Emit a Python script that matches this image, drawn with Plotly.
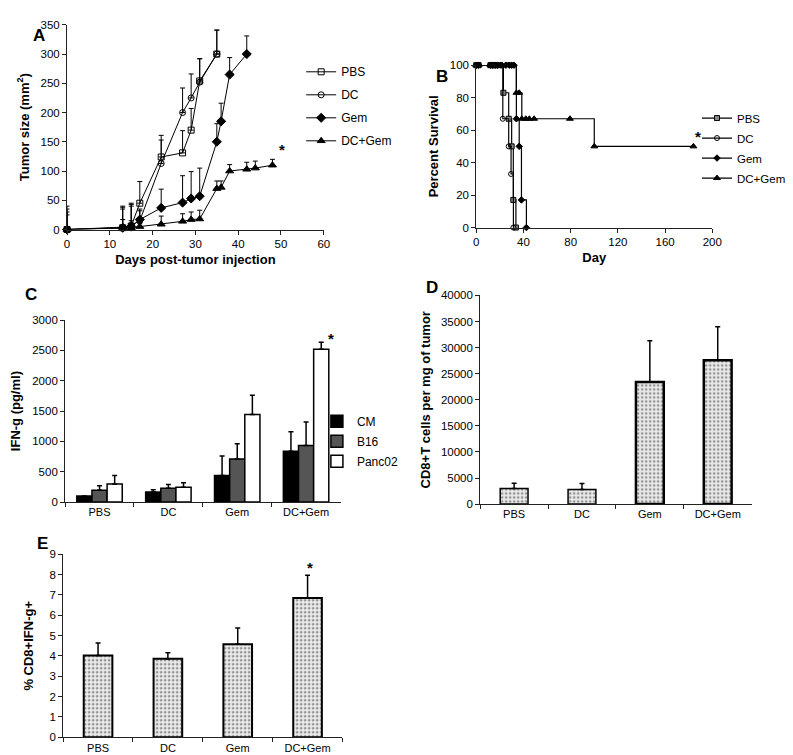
import plotly.graph_objects as go

W, H = 793, 755

# ---- Panel A: tumour size vs days post-injection
a_days_pbs = [0, 13, 15, 17, 22, 27, 29, 31, 35]
a_pbs = [0, 3, 6, 45, 124, 131, 170, 254, 300]
a_pbs_err = [40, 37, 37, 37, 37, 38, 37, 38, 41]

a_days_dc = [0, 13, 15, 17, 22, 27, 29, 31, 35]
a_dc = [0, 4, 7, 15, 113, 200, 225, 252, 300]
a_dc_err = [35, 34, 38, 20, 40, 42, 41, 40, 41]

a_days_gem = [0, 13, 15, 17, 22, 27, 29, 31, 35, 36, 38, 42]
a_gem = [0, 3, 5, 17, 37, 46, 53, 57, 150, 185, 265, 300]
a_gem_err = [30, 32, 35, 15, 32, 46, 46, 48, 31, 31, 29, 31]

a_days_dcgem = [0, 13, 15, 17, 22, 27, 29, 31, 35, 36, 38, 42, 44, 48]
a_dcgem = [0, 2, 3, 5, 9, 14, 17, 18, 70, 72, 100, 103, 105, 110]
a_dcgem_err = [25, 15, 12, 5, 14, 13, 13, 15, 13, 11, 11, 12, 12, 10]

# ---- Panel B: percent survival (step curves)
b_days_pbs = [0, 2, 12, 14, 16, 18, 23, 27.5, 30, 31.4, 33.6]
b_pbs = [100, 100, 100, 100, 100, 100, 83, 67, 50, 17, 0]

b_days_dc = [0, 2, 12, 14, 16, 18, 22.5, 27.5, 29.5, 31.5]
b_dc = [100, 100, 100, 100, 100, 100, 67, 50, 33, 0]

b_days_gem = [0, 2, 12, 14, 16, 18, 21, 25, 28, 30, 32, 34, 36.4, 38.3, 42.5]
b_gem = [100, 100, 100, 100, 100, 100, 100, 100, 100, 100, 100, 67, 50, 17, 0]

b_days_dcgem = [0, 2, 12, 14, 16, 18, 22, 26, 28, 30, 34, 36.4, 38.6, 42, 45, 49, 79.4, 100, 184]
b_dcgem = [100, 100, 100, 100, 100, 100, 100, 100, 100, 100, 83, 83, 67, 67, 67, 67, 67, 50, 50]

# ---- Panel C: IFN-g release
groups = ["PBS", "DC", "Gem", "DC+Gem"]
c_cm = [100, 165, 440, 840]
c_cm_err = [0, 40, 320, 320]
c_b16 = [195, 230, 710, 935]
c_b16_err = [75, 60, 250, 385]
c_panc = [300, 245, 1445, 2520]
c_panc_err = [140, 75, 315, 115]

# ---- Panel D: CD8+ T cells per mg tumour
d_vals = [3000, 2800, 23400, 27600]
d_err = [1000, 1150, 7900, 6400]

# ---- Panel E: % CD8+IFN-g+
e_vals = [4.02, 3.86, 4.58, 6.85]
e_err = [0.62, 0.30, 0.80, 1.12]

FONT = "Liberation Sans, Arial, sans-serif"


def px_x(a, b):
    return [a / W, b / W]


def px_y(top, bottom):
    return [1 - bottom / H, 1 - top / H]


fig = go.Figure()

# panel A traces
a_series = [
    ("PBS", a_days_pbs, a_pbs, a_pbs_err, "square-open", 6),
    ("DC", a_days_dc, a_dc, a_dc_err, "circle-open", 6),
    ("Gem", a_days_gem, a_gem, a_gem_err, "diamond", 7),
    ("DC+Gem", a_days_dcgem, a_dcgem, a_dcgem_err, "triangle-up", 7),
]
for name, xs, ys, err, sym, sz in a_series:
    fig.add_trace(go.Scatter(
        x=xs, y=ys, name=name, mode="lines+markers",
        line=dict(color="black", width=1),
        marker=dict(symbol=sym, size=sz, color="black", line=dict(color="black", width=1)),
        error_y=dict(type="data", array=err, arrayminus=[0] * len(err), symmetric=False,
                     color="black", thickness=1, width=2.5),
        xaxis="x", yaxis="y", cliponaxis=False, legend="legend",
        legendgroup="a" + name,
    ))

# panel B traces
b_series = [
    ("PBS", b_days_pbs, b_pbs, "square", "#888", 5),
    ("DC", b_days_dc, b_dc, "circle-open", "black", 5),
    ("Gem", b_days_gem, b_gem, "diamond", "black", 5),
    ("DC+Gem", b_days_dcgem, b_dcgem, "triangle-up", "black", 6),
]
for name, xs, ys, sym, col, sz in b_series:
    fig.add_trace(go.Scatter(
        x=xs, y=ys, name=name, mode="lines+markers", line_shape="hv",
        line=dict(color="black", width=1.2),
        marker=dict(symbol=sym, size=sz, color=col, line=dict(color="black", width=1)),
        xaxis="x2", yaxis="y2", cliponaxis=False, legend="legend2",
        legendgroup="b" + name,
    ))

# panel C traces
c_series = [
    ("CM", c_cm, c_cm_err, "black"),
    ("B16", c_b16, c_b16_err, "#555555"),
    ("Panc02", c_panc, c_panc_err, "white"),
]
for name, vals, err, col in c_series:
    fig.add_trace(go.Bar(
        x=groups, y=vals, name=name,
        marker=dict(color=col, line=dict(color="black", width=1.5)),
        error_y=dict(type="data", array=err, arrayminus=[0] * 4, symmetric=False,
                     color="black", thickness=1.5, width=2.5),
        xaxis="x3", yaxis="y3", legend="legend3", legendgroup="c" + name,
    ))

pattern = dict(shape=".", fgcolor="#333333", bgcolor="#ececec", size=4, solidity=0.35)

fig.add_trace(go.Bar(
    x=groups, y=d_vals, width=0.41, showlegend=False,
    marker=dict(color="#ececec", pattern=pattern,
                line=dict(color="black", width=[1.5, 1.5, 2.5, 2.5])),
    error_y=dict(type="data", array=d_err, arrayminus=[0] * 4, symmetric=False,
                 color="black", thickness=1.5, width=2.5),
    xaxis="x4", yaxis="y4",
))

fig.add_trace(go.Bar(
    x=groups, y=e_vals, width=0.41, showlegend=False,
    marker=dict(color="#ececec", pattern=pattern, line=dict(color="black", width=2)),
    error_y=dict(type="data", array=e_err, arrayminus=[0] * 4, symmetric=False,
                 color="black", thickness=1.5, width=2.5),
    xaxis="x5", yaxis="y5",
))

axis_common = dict(
    showline=True, linecolor="#222", linewidth=1, ticks="outside", ticklen=4,
    tickcolor="#222", showgrid=False, zeroline=False,
    tickfont=dict(size=11.5, color="black", family=FONT),
)
title_font = dict(size=13, color="black", family=FONT)
cat_font = dict(size=11, color="black", family=FONT)

fig.update_layout(
    width=W, height=H, margin=dict(l=0, r=0, t=0, b=0),
    paper_bgcolor="white", plot_bgcolor="white",
    font=dict(family=FONT, color="black"),
    bargap=0.34, bargroupgap=0,
    xaxis=dict(axis_common, domain=px_x(57, 318), range=[0, 60], dtick=10, anchor="y",
               title=dict(text="<b>Days post-tumor injection</b>", font=title_font, standoff=5)),
    yaxis=dict(axis_common, domain=px_y(11, 219), range=[0, 350], dtick=50, anchor="x",
               title=dict(text="<b>Tumor size (mm<sup>2</sup>)</b>", font=title_font, standoff=8)),
    xaxis2=dict(axis_common, domain=px_x(473, 713), range=[0, 200], dtick=40, anchor="y2",
                title=dict(text="<b>Day</b>", font=title_font, standoff=5)),
    yaxis2=dict(axis_common, domain=px_y(52, 217), range=[0, 100], dtick=20, anchor="x2",
                title=dict(text="<b>Percent Survival</b>", font=title_font, standoff=8)),
    xaxis3=dict(axis_common, domain=px_x(55, 335), anchor="y3", tickson="boundaries",
                tickfont=cat_font),
    yaxis3=dict(axis_common, domain=px_y(311, 496), range=[0, 3000], dtick=500, anchor="x3",
                tickformat="d",
                title=dict(text="<b>IFN-g (pg/ml)</b>", font=title_font, standoff=8)),
    xaxis4=dict(axis_common, domain=px_x(477, 753), anchor="y4", tickson="boundaries",
                tickfont=cat_font),
    yaxis4=dict(axis_common, domain=px_y(286, 498), range=[0, 40000], dtick=5000, anchor="x4",
                tickformat="d",
                title=dict(text="<b>CD8+T cells per mg of tumor</b>", font=title_font, standoff=7)),
    xaxis5=dict(axis_common, domain=px_x(53, 337), anchor="y5", tickson="boundaries",
                tickfont=cat_font),
    yaxis5=dict(axis_common, domain=px_y(549, 735), range=[0, 9], dtick=1, anchor="x5",
                title=dict(text="<b>% CD8+IFN-g+</b>", font=title_font, standoff=12)),
    legend=dict(x=295 / W, y=1 - 44 / H, xanchor="left", yanchor="top",
                font=dict(size=12, family=FONT), tracegroupgap=4, bgcolor="rgba(0,0,0,0)"),
    legend2=dict(x=1, y=1 - 91 / H, xanchor="right", yanchor="top",
                 font=dict(size=11.5, family=FONT), tracegroupgap=1, bgcolor="rgba(0,0,0,0)"),
    legend3=dict(x=311 / W, y=1 - 399 / H, xanchor="left", yanchor="top",
                 font=dict(size=12, family=FONT), tracegroupgap=1, bgcolor="rgba(0,0,0,0)"),
)

# panel letters and significance stars
letters = [("A", 20, 10), ("B", 438, 52), ("C", 12, 285), ("D", 428, 278), ("E", 24, 550)]
for txt, lx, ly in letters:
    fig.add_annotation(text="<b>%s</b>" % txt, x=lx / W, y=1 - ly / H, xref="paper", yref="paper",
                       showarrow=False, font=dict(size=17, family=FONT, color="black"))

stars = [("x", "y", 50.3, 136), ("x2", "y2", 187.5, 56), ("x3", "y3", 3.36, 2690), ("x5", "y5", 3.04, 8.35)]
for xr, yr, sx, sy in stars:
    fig.add_annotation(text="<b>*</b>", x=sx, y=sy, xref=xr, yref=yr, showarrow=False,
                       font=dict(size=15, family=FONT, color="black"))

fig.write_html("out.html")
